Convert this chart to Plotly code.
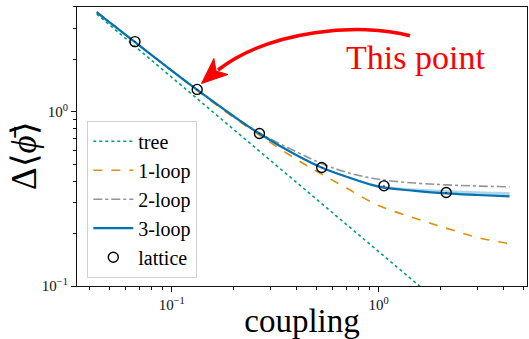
import plotly.graph_objects as go

# ---------------- data ----------------
g_curve = [0.0434, 0.066, 0.1, 0.132, 0.2, 0.265, 0.4, 0.53, 0.7, 1.0, 1.5, 2.12, 3.0, 4.3]
tree_g = [0.0434, 0.1, 0.3, 1.0, 4.3]
tree_v = [3.64, 1.58, 0.527, 0.158, 0.0367]
loop1 = [3.76, 2.52, 1.72, 1.33, 0.925, 0.735, 0.535, 0.44, 0.365, 0.29, 0.245, 0.215, 0.19, 0.175]
loop2 = [3.74, 2.54, 1.73, 1.35, 0.945, 0.758, 0.59, 0.505, 0.45, 0.41, 0.39, 0.381, 0.375, 0.371]
loop3 = [3.73, 2.53, 1.725, 1.345, 0.94, 0.751, 0.565, 0.479, 0.424, 0.372, 0.352, 0.34, 0.333, 0.327]
loop3_hi = [3.73, 2.53, 1.725, 1.345, 0.94, 0.751, 0.566, 0.483, 0.43, 0.38, 0.363, 0.356, 0.35, 0.346]
lat_g = [0.0664, 0.1328, 0.2656, 0.5312, 1.0625, 2.125]
lat_v = [2.53, 1.345, 0.751, 0.479, 0.376, 0.344]
lat_err = [0.01, 0.006, 0.004, 0.003, 0.003, 0.003]

x_major = [0.1, 1]
x_major_text = ["10<sup>−1</sup>", "10<sup>0</sup>"]
y_major = [0.1, 1]
y_major_text = ["10<sup>−1</sup>", "10<sup>0</sup>"]
x_minor = [0.04, 0.05, 0.06, 0.07, 0.08, 0.09, 0.2, 0.3, 0.4, 0.5, 0.6, 0.7, 0.8, 0.9, 2, 3, 4, 5]
y_minor = [0.2, 0.3, 0.4, 0.5, 0.6, 0.7, 0.8, 0.9, 2, 3, 4]

# colours (seaborn colorblind)
C_TREE, C_1, C_2, C_3 = "#029e73", "#de8f05", "#949494", "#0173b2"
FONT = "Liberation Serif"

W, H = 529, 339
ML, MR, MT, MB = 77, 2, 7, 53

fig = go.Figure()

fig.add_trace(go.Scatter(x=g_curve, y=loop3, mode="lines", line=dict(width=0, shape="spline"),
                         showlegend=False, hoverinfo="skip"))
fig.add_trace(go.Scatter(x=g_curve, y=loop3_hi, mode="lines", line=dict(width=0, shape="spline"),
                         fill="tonexty", fillcolor="rgba(1,115,178,0.3)", showlegend=False,
                         hoverinfo="skip"))
fig.add_trace(go.Scatter(x=tree_g, y=tree_v, mode="lines", name="tree",
                         line=dict(color=C_TREE, width=1.6, dash="dot")))
fig.add_trace(go.Scatter(x=g_curve, y=loop1, mode="lines", name="1-loop",
                         line=dict(color=C_1, width=1.6, dash="dash", shape="spline")))
fig.add_trace(go.Scatter(x=g_curve, y=loop2, mode="lines", name="2-loop",
                         line=dict(color=C_2, width=1.6, dash="dashdot", shape="spline")))
fig.add_trace(go.Scatter(x=g_curve, y=loop3, mode="lines", name="3-loop",
                         line=dict(color=C_3, width=2.2, shape="spline")))
fig.add_trace(go.Scatter(x=lat_g, y=lat_v, mode="markers", name="lattice",
                         marker=dict(symbol="circle-open", size=10, color="black",
                                     line=dict(width=1.4, color="black")),
                         error_y=dict(type="data", array=lat_err, color="black", thickness=1.4, width=0)))

# curved annotation arrow (pixel -> paper)
def px(xp):
    return (xp - ML) / (W - ML - MR)

def py(yp):
    return (H - MB - yp) / (H - MT - MB)

S, C1, C2, E = (410, 35.7), (360, 22), (270, 30), (218, 70)
arc = "M {} {} C {} {}, {} {}, {} {}".format(px(S[0]), py(S[1]), px(C1[0]), py(C1[1]),
                                             px(C2[0]), py(C2[1]), px(E[0]), py(E[1]))
fig.add_shape(type="path", xref="paper", yref="paper", path=arc,
              line=dict(color="red", width=3.5))
tip, w1, notch, w2 = (201.5, 83.5), (213.9, 58.5), (216.0, 71.0), (228.0, 74.5)
head = "M {} {} L {} {} L {} {} L {} {} Z".format(px(tip[0]), py(tip[1]), px(w1[0]), py(w1[1]),
                                                   px(notch[0]), py(notch[1]), px(w2[0]), py(w2[1]))
fig.add_shape(type="path", xref="paper", yref="paper", path=head,
              line=dict(color="red", width=1), fillcolor="red")

fig.add_annotation(text="This point", xref="paper", yref="paper", x=px(415), y=py(57),
                   xanchor="center", yanchor="middle", showarrow=False,
                   font=dict(family=FONT, size=34, color="red"))

# y-axis label (as rotated annotation to match vertical placement)
fig.add_annotation(text="Δ⟨<i>ϕ̄</i>⟩", xref="paper", yref="paper", x=px(24), y=py(156),
                   xanchor="center", yanchor="middle", textangle=-90, showarrow=False,
                   font=dict(family=FONT, size=35, color="black"))

axis_common = dict(type="log", showgrid=False, zeroline=False, showline=True, linecolor="#111",
                   linewidth=1, mirror=True, ticks="outside", ticklen=5, tickwidth=1, tickcolor="#111",
                   tickfont=dict(family=FONT, size=15, color="#111"))

fig.update_xaxes(**axis_common, range=[-1.458, 0.718], tickvals=x_major, ticktext=x_major_text,
                 minor=dict(tickvals=x_minor, ticks="outside", ticklen=3, tickcolor="#111", tickwidth=1),
                 title=dict(text="coupling", font=dict(family=FONT, size=33, color="black"), standoff=2))
fig.update_yaxes(**axis_common, range=[-1, 0.602], tickvals=y_major, ticktext=y_major_text,
                 minor=dict(tickvals=y_minor, ticks="outside", ticklen=3, tickcolor="#111", tickwidth=1))

fig.update_layout(
    width=W, height=H, margin=dict(l=ML, r=MR, t=MT, b=MB),
    paper_bgcolor="white", plot_bgcolor="white",
    font=dict(family=FONT),
    legend=dict(x=px(87.3), y=py(120.7), xanchor="left", yanchor="top", traceorder="normal",
                bgcolor="rgba(255,255,255,0.8)", bordercolor="#d0d0d0", borderwidth=1,
                font=dict(family=FONT, size=20, color="black"), itemwidth=40),
)

fig.write_html("out.html")
